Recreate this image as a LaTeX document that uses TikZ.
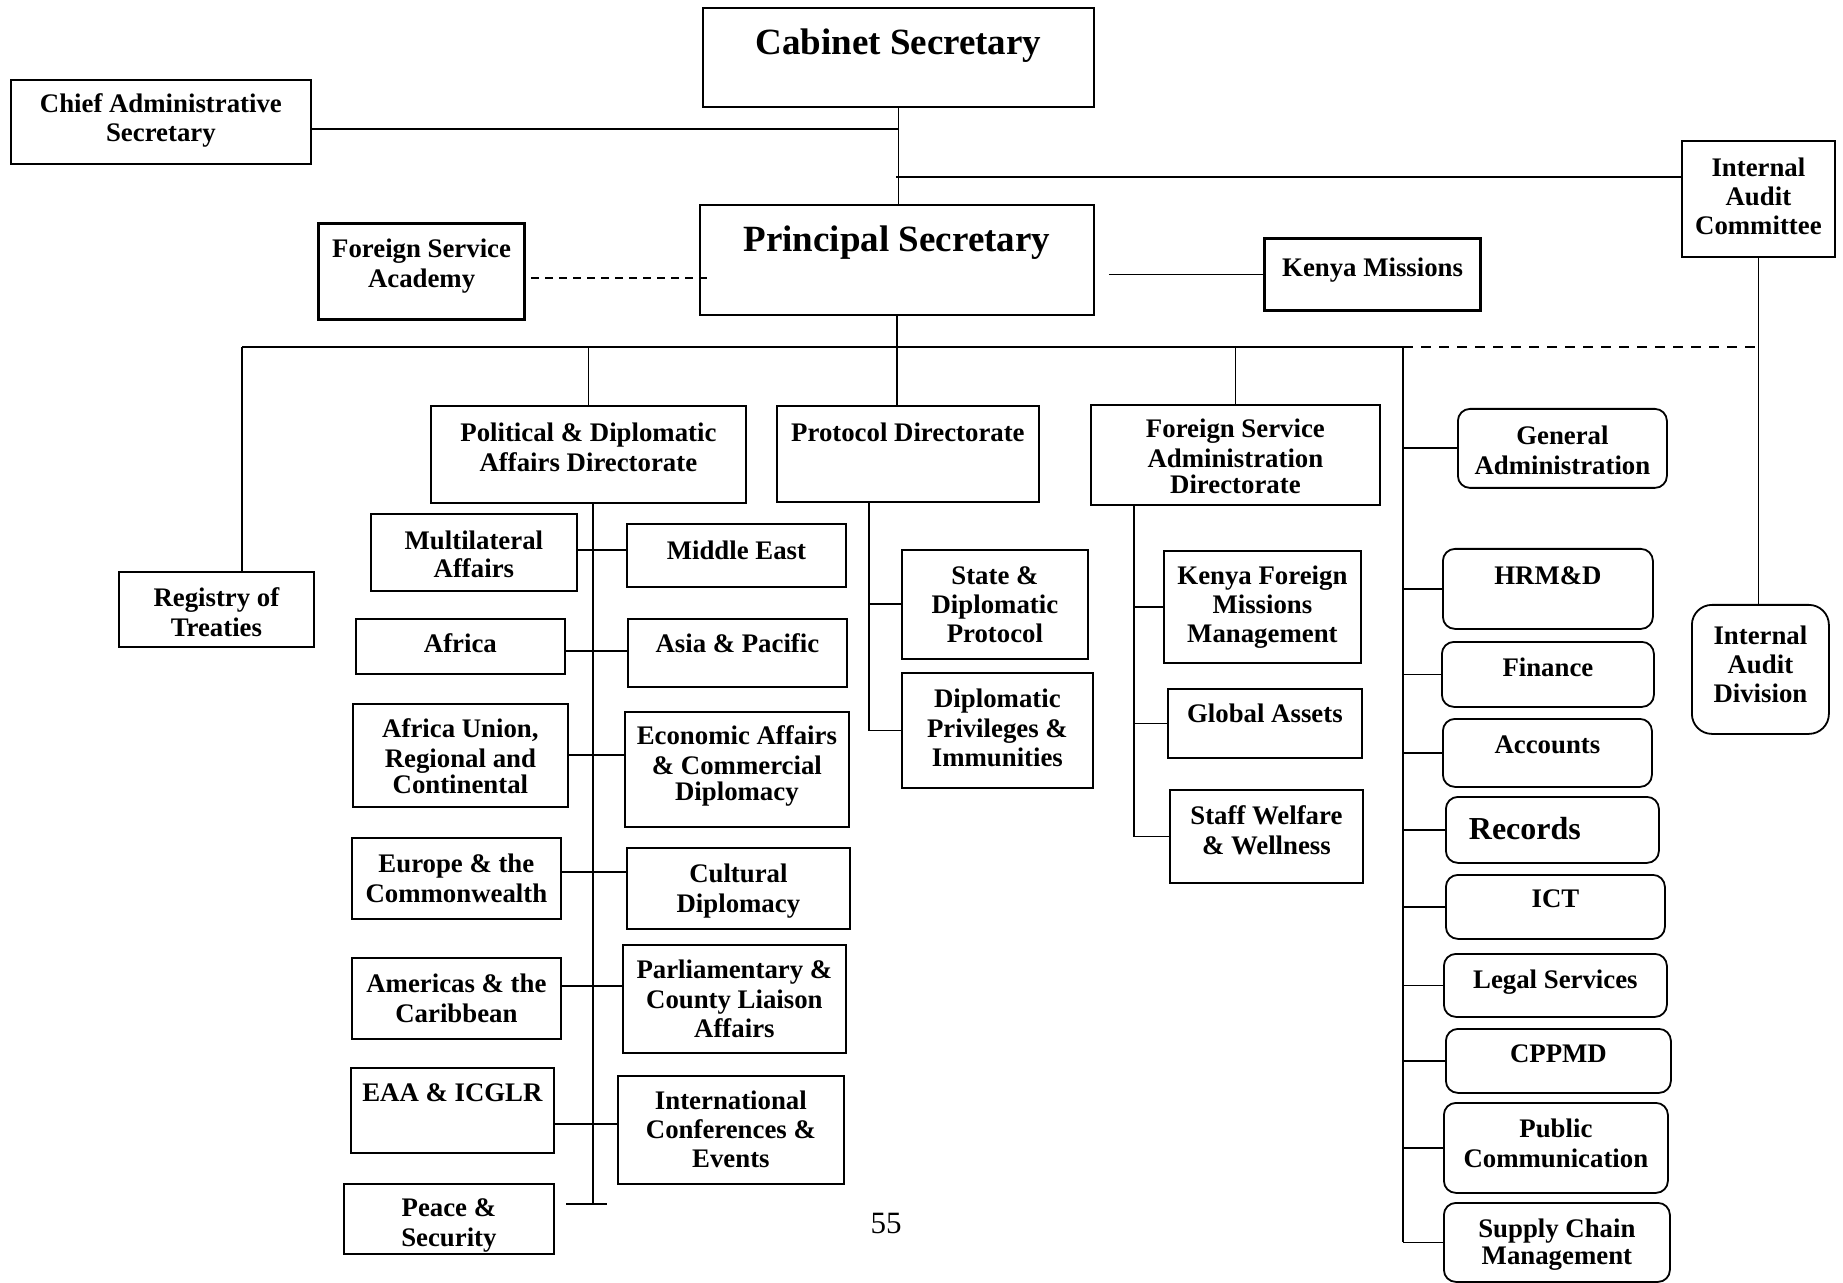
\documentclass[tikz,border=0pt]{standalone}
\usepackage{fontspec}
\setmainfont{Liberation Serif}
\newdimen\unitpx \unitpx=0.5pt
\newcommand{\inbox}[5][15pt]{%
  \parbox[c][#3\unitpx][t]{#2\unitpx}{\centering\baselineskip=#1\relax
    \vspace*{#4\unitpx}\strut#5\par}}

\begin{document}
\begin{tikzpicture}[x=0.5pt,y=-0.5pt,
    unit/.style={draw,line width=0.9pt,inner sep=0pt,anchor=north west,
      font=\fontsize{13.4}{15}\selectfont\bfseries},
    softunit/.style={unit,rounded corners=6pt},
    heavyunit/.style={unit,line width=1.6pt},
    headunit/.style={unit,font=\fontsize{18.5}{20}\selectfont\bfseries},
    link/.style={line width=0.9pt}]
  \path[use as bounding box,fill=white] (0,0) rectangle (1843,1283);

  % top of the ministry
  \node[headunit] (cab) at (702,7) {\inbox{391}{99}{19}{Cabinet Secretary}};
  \node[unit] (cas) at (10,79) {\inbox[13pt]{300}{84}{12}{Chief Administrative\\Secretary}};
  \node[heavyunit] (academy) at (317,222) {\inbox[11.75pt]{206}{96}{13}{Foreign Service\\Academy}};
  \node[headunit] (ps) at (699,204) {\inbox{394}{110}{19}{Principal Secretary}};
  \node[heavyunit] (kmis) at (1263,237) {\inbox{216}{72}{17}{Kenya Missions}};
  \node[unit] (iac) at (1681,140) {\inbox[14.5pt]{153}{116}{15}{Internal\\Audit\\Committee}};

  % directorates
  \node[unit] (reg) at (118,571) {\inbox{195}{75}{14}{Registry of\\Treaties}};
  \node[unit] (pda) at (430,405) {\inbox{315}{97}{15}{Political \& Diplomatic\\Affairs Directorate}};
  \node[unit] (prot) at (776,405) {\inbox{262}{96}{15}{Protocol Directorate}};
  \node[unit] (fsad) at (1090,404) {\inbox[13.25pt]{289}{100}{12}{Foreign Service\\Administration\\Directorate}};

  % political and diplomatic affairs
  \node[unit] (multi) at (370,513) {\inbox[14pt]{206}{77}{15}{Multilateral\\Affairs}};
  \node[unit] (mide) at (626,523) {\inbox{219}{63}{15}{Middle East}};
  \node[unit] (afr) at (355,618) {\inbox{209}{55}{13}{Africa}};
  \node[unit] (asia) at (627,618) {\inbox{219}{68}{13}{Asia \& Pacific}};
  \node[unit] (au) at (352,703) {\inbox[13pt]{215}{103}{13}{Africa Union,\\Regional and\\Continental}};
  \node[unit] (econ) at (624,711) {\inbox[13.25pt]{224}{115}{12}{Economic Affairs\\\& Commercial\\Diplomacy}};
  \node[unit] (eur) at (351,837) {\inbox{209}{81}{14}{Europe \& the\\Commonwealth}};
  \node[unit] (cult) at (626,847) {\inbox{223}{81}{14}{Cultural\\Diplomacy}};
  \node[unit] (amer) at (351,957) {\inbox{209}{81}{14}{Americas \& the\\Caribbean}};
  \node[unit] (parl) at (622,944) {\inbox[14.75pt]{223}{108}{13}{Parliamentary \&\\County Liaison\\Affairs}};
  \node[unit] (eaa) at (350,1067) {\inbox{203}{85}{13}{EAA \& ICGLR}};
  \node[unit] (conf) at (617,1075) {\inbox[14.5pt]{226}{108}{13}{International\\Conferences \&\\Events}};
  \node[unit] (peace) at (343,1183) {\inbox[13pt]{210}{70}{12}{Peace \&\\Security}};

  % protocol and foreign service administration
  \node[unit] (state) at (901,549) {\inbox[14.5pt]{186}{109}{14}{State \&\\Diplomatic\\Protocol}};
  \node[unit] (priv) at (901,672) {\inbox[14.75pt]{191}{115}{14}{Diplomatic\\Privileges \&\\Immunities}};
  \node[unit] (kfmm) at (1163,550) {\inbox[14.5pt]{197}{112}{13}{Kenya Foreign\\Missions\\Management}};
  \node[unit] (glob) at (1167,688) {\inbox{194}{69}{13}{Global Assets}};
  \node[unit] (staff) at (1169,789) {\inbox{193}{93}{14}{Staff Welfare\\\& Wellness}};

  % administration units
  \node[softunit] (gen) at (1457,408) {\inbox[13.5pt]{209}{79}{15}{General\\Administration}};
  \node[softunit] (hrm) at (1442,548) {\inbox{210}{80}{15}{HRM\&D}};
  \node[softunit] (fin) at (1441,641) {\inbox{212}{65}{14}{Finance}};
  \node[softunit] (acc) at (1442,718) {\inbox{209}{68}{14}{Accounts}};
  \node[softunit,font=\fontsize{16}{17}\selectfont\bfseries] (rec) at (1445,796)
    {\inbox[17pt]{213}{66}{19}{\raggedright\hspace*{23\unitpx}Records}};
  \node[softunit] (ict) at (1445,874) {\inbox{219}{64}{12}{ICT}};
  \node[softunit] (legal) at (1443,953) {\inbox{223}{63}{14}{Legal Services}};
  \node[softunit] (cppmd) at (1445,1028) {\inbox{225}{64}{13}{CPPMD}};
  \node[softunit] (pub) at (1443,1102) {\inbox[13.5pt]{224}{90}{14}{Public\\Communication}};
  \node[softunit] (supp) at (1443,1202) {\inbox[13.5pt]{226}{79}{14}{Supply Chain\\Management}};
  \node[softunit,rounded corners=10pt] (iad) at (1691,604) {\inbox[14.5pt]{137}{129}{19}{Internal\\Audit\\Division}};

  \node[font=\fontsize{15.5}{17}\selectfont] (pageno) at (886,1223) {55};

  % links at the top
  \draw[link] (cab.south) -- (cab.south |- ps.north);
  \draw[link] ([yshift=-3.5pt]cas.east) -- ([yshift=-3.5pt]cas.east -| cab.south);
  \coordinate (iacjoin) at (896,177);
  \draw[link] (iacjoin) -- (iacjoin -| iac.west);
  \coordinate (acadjoin) at (713,278);
  \draw[link,dash pattern=on 4pt off 3pt] (acadjoin -| academy.east) ++(5,0) -- (acadjoin);
  \draw[link] (ps.east |- kmis.west) ++(14,0) -- (kmis.west);

  % main bus
  \coordinate (busleft) at (242,347);
  \coordinate (busright) at (1403,347);
  \draw[link] (busleft) -- (busright);
  \draw[link] (ps.south) -- (ps.south |- prot.north);
  \draw[link] (busleft) -- (busleft |- reg.north);
  \draw[link] (pda.north |- busleft) -- (pda.north);
  \draw[link] (fsad.north |- busleft) -- (fsad.north);
  \draw[link,dash pattern=on 5pt off 4pt] (busright) -- (iac.south |- busright);
  \draw[link] (iac.south) -- (iac.south |- iad.north);
  \draw[link] (busright) -- (busright |- supp.west);
  \foreach \u in {gen,hrm,fin,acc,rec,ict,legal,cppmd,pub,supp}
    \draw[link] (busright |- \u.west) -- (\u.west);

  % political and diplomatic affairs
  \coordinate (pdastem) at (593,1204);
  \draw[link] (pdastem |- pda.south) -- (pdastem);
  \draw[link] (pdastem) ++(-27,0) -- ++(41,0);
  \foreach \l/\r/\y in {multi/mide/550,afr/asia/651,au/econ/755,
      eur/cult/872,amer/parl/986,eaa/conf/1124}{
    \coordinate (rowy) at (0,\y);
    \draw[link] (\l.east |- rowy) -- (\r.west |- rowy);
  }

  % protocol and foreign service administration
  \coordinate (protstem) at (869,0);
  \draw[link] (protstem |- prot.south) -- (protstem |- priv.west) -- (priv.west);
  \draw[link] (protstem |- state.west) -- (state.west);
  \coordinate (fsastem) at (1134,0);
  \draw[link] (fsastem |- fsad.south) -- (fsastem |- staff.west) -- (staff.west);
  \foreach \u in {kfmm,glob}
    \draw[link] (fsastem |- \u.west) -- (\u.west);
\end{tikzpicture}
\end{document}
